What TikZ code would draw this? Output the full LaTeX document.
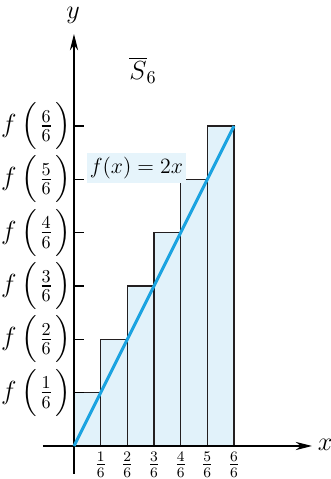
\documentclass[tikz,border=0pt]{standalone}
\usepackage{amsmath}
\usepackage{tikz}
\usetikzlibrary{arrows.meta,positioning}
\definecolor{barfill}{HTML}{E1F2FA}
\definecolor{barline}{HTML}{231F20}
\definecolor{curve}{HTML}{1BA3E0}
\definecolor{labelfill}{HTML}{E6F4FB}

\begin{document}
\begin{tikzpicture}[x=88pt,y=88pt,
          axis/.style={-{Stealth[length=9pt,width=4.5pt]}, line width=0.6pt, color=black},
          bar/.style={draw=barline, fill=barfill, line width=0.7pt},
          tick/.style={line width=0.6pt},
          ylab/.style={font=\Large, inner sep=0pt},
          xlab/.style={font=\large, inner sep=0pt},
          graph/.style={line width=1.7pt, color=curve},
          eqn/.style={fill=labelfill, inner xsep=1.5pt, inner ysep=2pt, font=\large}
        ]
          \useasboundingbox (-0.4625,-0.20625) rectangle (1.60625,2.7875);
          % upper sum rectangles
          \draw[bar] (0,0) rectangle (1/6,1/3);
          \draw[bar] (1/6,0) rectangle (2/6,2/3);
          \draw[bar] (2/6,0) rectangle (3/6,1);
          \draw[bar] (3/6,0) rectangle (4/6,4/3);
          \draw[bar] (4/6,0) rectangle (5/6,5/3);
          \draw[bar] (5/6,0) rectangle (1,2);
          % axes
          \coordinate (xstart) at (-0.194,0);
          \coordinate (xend) at (1.4875,0);
          \coordinate (ystart) at (0,-0.175);
          \coordinate (yend) at (0,2.575);
          \coordinate (orig) at (0,0);
          \coordinate (top) at (1,2);
          \draw[axis] (xstart) -- (xend);
          \draw[axis] (ystart) -- (yend);
          \node[font=\Large, inner sep=0pt] (xname) at (1.569,0.005) {$x$};
          \node[font=\Large, inner sep=0pt] (yname) at (-0.006,2.69) {$y$};
          % y ticks
          \draw[tick] (0,1/3) -- (0.0625,1/3);
          \draw[tick] (0,2/3) -- (0.0625,2/3);
          \draw[tick] (0,1) -- (0.0625,1);
          \draw[tick] (0,4/3) -- (0.0625,4/3);
          \draw[tick] (0,5/3) -- (0.0625,5/3);
          \draw[tick] (0,2) -- (0.0625,2);
          \node[ylab] (f1) at (-0.235,1/3) {$f\,\Bigl(\mkern2mu\tfrac{1}{6}\mkern2mu\Bigr)$};
          \node[ylab] (f2) at (-0.235,2/3) {$f\,\Bigl(\mkern2mu\tfrac{2}{6}\mkern2mu\Bigr)$};
          \node[ylab] (f3) at (-0.235,1) {$f\,\Bigl(\mkern2mu\tfrac{3}{6}\mkern2mu\Bigr)$};
          \node[ylab] (f4) at (-0.235,4/3) {$f\,\Bigl(\mkern2mu\tfrac{4}{6}\mkern2mu\Bigr)$};
          \node[ylab] (f5) at (-0.235,5/3) {$f\,\Bigl(\mkern2mu\tfrac{5}{6}\mkern2mu\Bigr)$};
          \node[ylab] (f6) at (-0.235,2) {$f\,\Bigl(\mkern2mu\tfrac{6}{6}\mkern2mu\Bigr)$};
          % x tick labels
          \node[xlab] (x1) at (1/6,-0.115) {$\tfrac{1}{6}$};
          \node[xlab] (x2) at (2/6,-0.115) {$\tfrac{2}{6}$};
          \node[xlab] (x3) at (3/6,-0.115) {$\tfrac{3}{6}$};
          \node[xlab] (x4) at (4/6,-0.115) {$\tfrac{4}{6}$};
          \node[xlab] (x5) at (5/6,-0.115) {$\tfrac{5}{6}$};
          \node[xlab] (x6) at (1,-0.115) {$\tfrac{6}{6}$};
          % the function
          \draw[graph] (orig) -- (top);
          \node[eqn] (eq) at (0.39,1.7375) {$f(x)=2x$};
          \node[font=\Large] (sum) at (0.431,2.35) {$\overline{S}_6$};
        \end{tikzpicture}
\end{document}
